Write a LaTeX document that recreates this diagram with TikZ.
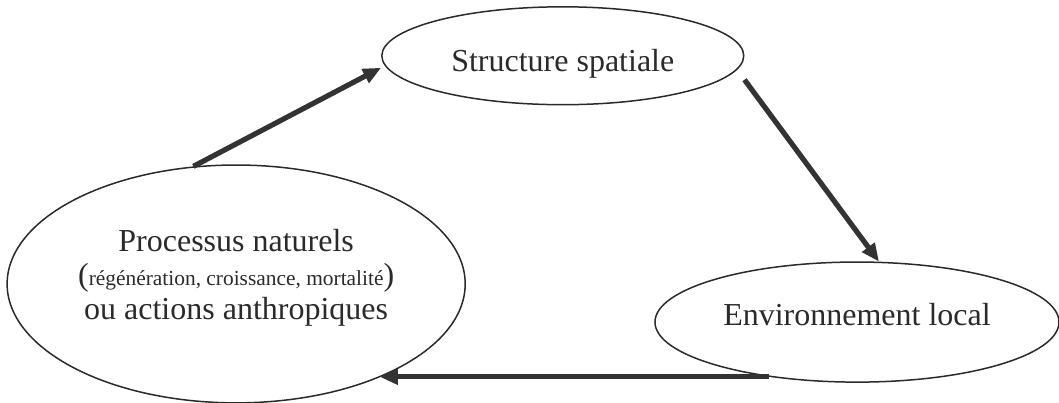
\documentclass[tikz,border=0pt]{standalone}
\usepackage{fontspec}
\setmainfont{Liberation Serif}
\usepackage{tikz}
\usetikzlibrary{arrows.meta,shapes.geometric}
\definecolor{cyInk}{HTML}{2A2A2A}
\definecolor{cyArrow}{HTML}{333333}
\tikzset{
  bulle/.style={ellipse, draw=cyInk, line width=0.75pt, inner sep=0pt, align=center, text=cyInk, font=\fontsize{16pt}{17pt}\selectfont},
  fleche/.style={-{Triangle[length=9pt,width=7.5pt]}, line width=2.6pt, draw=cyArrow},
}
\begin{document}
\begin{tikzpicture}
  \useasboundingbox (0,0) rectangle (18.61,7.08);
  \node[bulle, minimum width=8.05cm, minimum height=4.18cm, text depth=9.5pt] (proc) at (4.15,2.09) {Processus naturels\\({\fontsize{10.7pt}{12pt}\selectfont régénération, croissance, mortalité})\\ou actions anthropiques};
  \node[bulle, minimum width=6.36cm, minimum height=1.72cm, text height=18.8pt] (struct) at (9.89,6.10) {Structure spatiale};
  \node[bulle, minimum width=7.10cm, minimum height=2.11cm, text depth=8pt] (env) at (15.06,1.42) {Environnement local};
  % cycle
  \draw[fleche] (proc.110) -- ([yshift=-6pt]struct.west);
  \draw[fleche] ([yshift=-12pt]struct.east) -- (env.70);
  \draw[fleche] (env.212) -- (proc.-33 |- env.212);
\end{tikzpicture}
\end{document}
